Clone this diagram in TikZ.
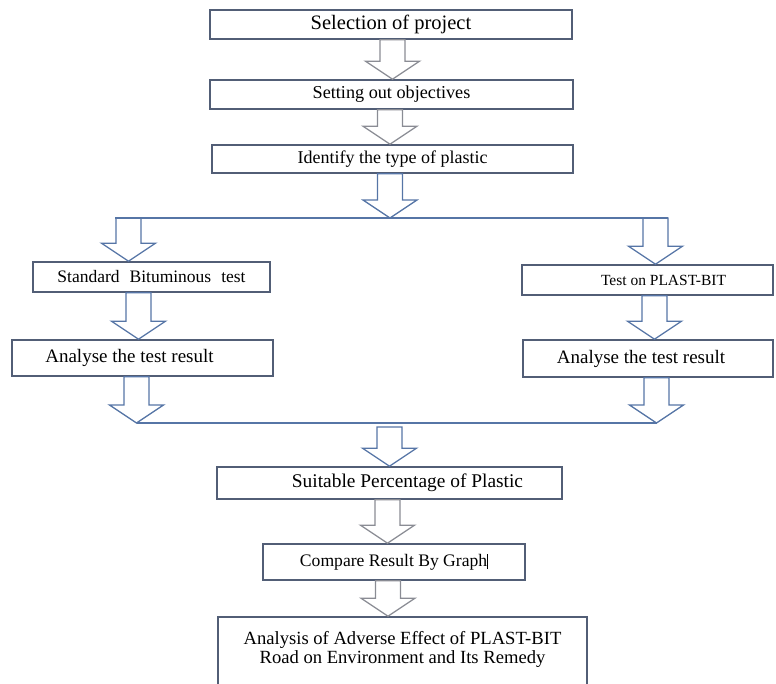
\documentclass[tikz,border=0pt]{standalone}
\usepackage{fontspec}
\setmainfont{Liberation Serif}
\usetikzlibrary{calc}

\definecolor{BoxColor}{RGB}{82,94,118}
\definecolor{FlowColor}{RGB}{86,117,166}
\definecolor{GreyFlowColor}{RGB}{138,140,148}

% hollow block arrow: shaft starts at #2, tip lies on the level of #3
\newcommand{\fatarrow}[3][flowarrow]{%
	\draw[#1] let \p1=(#2), \p2=(#3) in
		(\x1-12.5pt,\y1) -- (\x1-12.5pt,\y2+18pt) -- (\x1-27pt,\y2+18pt) -- (\x1,\y2)
		-- (\x1+27pt,\y2+18pt) -- (\x1+12.5pt,\y2+18pt) -- (\x1+12.5pt,\y1) -- cycle;}

\begin{document}
\begin{tikzpicture}[
		x=1pt, y=-1pt,
		stage/.style={draw=BoxColor, line width=1.6pt, fill=white, inner sep=0pt, align=center, font=\fontsize{18}{19}\selectfont},
		flowarrow/.style={draw=FlowColor, line width=1.3pt, line join=miter},
		greyarrow/.style={flowarrow, draw=GreyFlowColor},
		splitline/.style={draw=FlowColor, line width=1.6pt}
	]
	\useasboundingbox (0,0) rectangle (776,683);

	% Stages
	\node[stage, minimum width=362pt, minimum height=29pt, font=\fontsize{20.5}{22}\selectfont] (sel) at (391,24.5) {Selection of project};
	\node[stage, minimum width=363pt, minimum height=29pt, font=\fontsize{18.2}{20}\selectfont] (obj) at (391.5,94.5) {Setting out objectives};
	\node[stage, minimum width=361pt, minimum height=28pt] (ident) at (392.5,159) {Identify the type of plastic};
	\node[stage, minimum width=237pt, minimum height=30pt, font=\fontsize{17.5}{19}\selectfont] (std) at (151.5,277) {Standard\hspace{10pt}Bituminous\hspace{10pt}test};
	\node[stage, minimum width=251pt, minimum height=30pt, font=\fontsize{15.5}{17}\selectfont] (plast) at (647.5,280) {\hspace*{32pt}Test on PLAST-BIT};
	\node[stage, minimum width=261pt, minimum height=36pt, font=\fontsize{19}{20}\selectfont] (anaL) at (142.5,358) {Analyse the test result\hspace*{26pt}};
	\node[stage, minimum width=250pt, minimum height=37pt, font=\fontsize{19}{20}\selectfont] (anaR) at (648,358.5) {Analyse the test result\hspace*{14pt}};
	\node[stage, minimum width=345pt, minimum height=32pt, font=\fontsize{19.4}{21}\selectfont] (suit) at (389.5,483) {\hspace*{36pt}Suitable Percentage of Plastic};
	\node[stage, minimum width=262pt, minimum height=36pt, font=\fontsize{17.6}{19}\selectfont] (comp) at (394,562) {Compare Result By Graph\rule[-3pt]{0.8pt}{15pt}};
	\node[stage, minimum width=369pt, minimum height=80pt, font=\fontsize{18.6}{19}\selectfont] (adv) at (402.5,657) {Analysis of Adverse Effect of PLAST-BIT\\Road on Environment and Its Remedy\\[0pt]~};

	% Split and merge points
	\coordinate (split) at (390,218);
	\coordinate (splitL) at (128.5,218);
	\coordinate (splitR) at (655.5,218);
	\coordinate (mergeL) at (136.5,423);
	\coordinate (mergeR) at (656.5,423);

	% Arrows
	\fatarrow[greyarrow]{$(sel.south)+(1.5,0)$}{obj.north}
	\fatarrow[greyarrow]{$(obj.south)+(-1.5,0)$}{ident.north}
	\fatarrow{$(ident.south)+(-2.5,0)$}{split}
	\draw[splitline] ($(splitL)+(-13.5,0)$) -- ($(splitR)+(12.5,0)$);
	\fatarrow{splitL}{std.north}
	\fatarrow{splitR}{plast.north}
	\fatarrow{$(std.south)+(-13,0)$}{anaL.north}
	\fatarrow{$(plast.south)+(7,0)$}{anaR.north}
	\fatarrow{$(anaL.south)+(-6,0)$}{mergeL}
	\fatarrow{$(anaR.south)+(8.5,0)$}{mergeR}
	\draw[splitline] (mergeL) -- (mergeR);
	\fatarrow{$(suit.north |- mergeL)+(0,4)$}{suit.north}
	\fatarrow[greyarrow]{$(suit.south)+(-2,0)$}{comp.north}
	\fatarrow[greyarrow]{$(comp.south)+(-6,0)$}{adv.north}

\end{tikzpicture}
\end{document}
